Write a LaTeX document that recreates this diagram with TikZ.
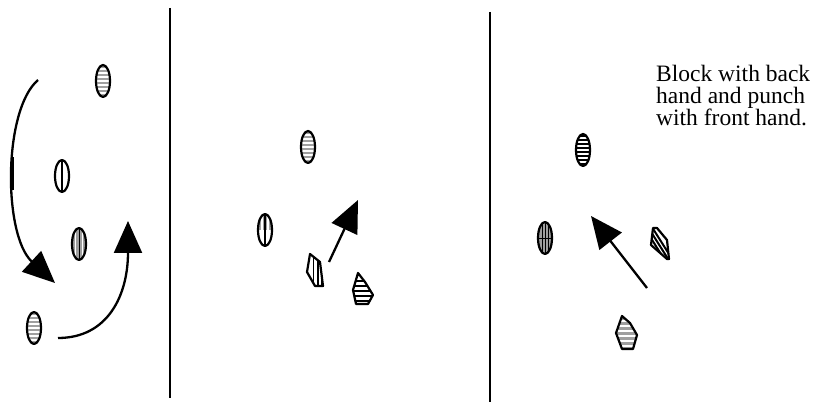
\documentclass[tikz,border=0pt]{standalone}
\usepackage{fontspec}
\setmainfont{Liberation Serif}
\usetikzlibrary{arrows.meta, positioning}

% player, horizontal stripes: x, y, fill, stripe colour
\newcommand{\hplayer}[4]{%
  \begin{scope}
    \clip (#1,#2) ellipse (7 and 16);
    \fill[#3] (#1-8,#2-17) rectangle (#1+8,#2+17);
    \foreach \d in {-12,-8,...,12}
      \draw[#4, line width=1.8pt] (#1-8,#2+\d) -- (#1+8,#2+\d);
  \end{scope}
  \draw[outline] (#1,#2) ellipse (7 and 16);}

% player, vertical stripes: x, y, fill, stripe style, stripe offsets
\newcommand{\vplayer}[5]{%
  \begin{scope}
    \clip (#1,#2) ellipse (7 and 16);
    \fill[#3] (#1-8,#2-17) rectangle (#1+8,#2+17);
    \foreach \d in {#5}
      \draw[#4] (#1+\d,#2-17) -- (#1+\d,#2+17);
  \end{scope}
  \draw[outline] (#1,#2) ellipse (7 and 16);}

\begin{document}
\begin{tikzpicture}[x=1pt, y=-1pt]
    % Define styles
    \tikzstyle{outline} = [draw=black, line width=2.2pt, line join=round]
    \tikzstyle{divider} = [draw=black, line width=1.6pt]
    \tikzstyle{arrow} = [-{Triangle[length=32pt, width=28pt]}, line width=2.3pt]
    \useasboundingbox (0,0) rectangle (814,406);

    % Dividers
    \draw[divider] (170,8) -- (170,398);
    \draw[divider] (490,12) -- (490,402);

    % Panel 1
    \hplayer{103}{81}{gray!75}{white}
    \vplayer{62}{176}{white}{line width=1.8pt}{0}
    \vplayer{79}{244}{gray!75}{white, line width=1.6pt}{-3.5,3.5}
    \draw[line width=0.8pt] (79,229) -- (79,259);
    \hplayer{34}{328}{gray!75}{white}

    % Panel 2
    \hplayer{308}{147}{gray!75}{white}
    \begin{scope}
        \clip (265,230) ellipse (7 and 16);
        \fill[gray!75] (257,213) rectangle (273,230);
        \draw[white, line width=1.4pt] (262,213) -- (262,230);
        \draw[white, line width=1.4pt] (268,213) -- (268,230);
        \draw[line width=1.2pt] (265,213) -- (265,247);
    \end{scope}
    \draw[outline] (265,230) ellipse (7 and 16);
    \begin{scope}
        \clip (310,254) -- (320,262) -- (323,286) -- (315,286) -- (307,272) -- cycle;
        \foreach \x in {313.5,318,322}
            \draw[line width=1.6pt] (\x,250) -- (\x,290);
    \end{scope}
    \draw[outline] (310,254) -- (320,262) -- (323,286) -- (315,286) -- (307,272) -- cycle;
    \begin{scope}
        \clip (358,273) -- (365,282) -- (373,295) -- (368,304) -- (356,304) -- (353,290) -- cycle;
        \foreach \y in {281,286,291,296,301}
            \draw[line width=2.2pt] (350,\y) -- (376,\y);
    \end{scope}
    \draw[outline] (358,273) -- (365,282) -- (373,295) -- (368,304) -- (356,304) -- (353,290) -- cycle;

    % Panel 3
    \hplayer{583}{150}{black}{white}
    \vplayer{545}{238}{gray!75}{line width=0.6pt}{-3,0,3}
    \begin{scope}
        \clip (545,238) ellipse (7 and 16);
        \draw[line width=0.6pt] (537,238) -- (553,238);
    \end{scope}
    \begin{scope}
        \clip (653,228) -- (657,228) -- (667,240) -- (669,259) -- (667,259) -- (651,245) -- cycle;
        \foreach \o in {-4,0,4}
            \draw[line width=2pt] (646+\o,224) -- (670+\o,262);
    \end{scope}
    \draw[outline] (653,228) -- (657,228) -- (667,240) -- (669,259) -- (667,259) -- (651,245) -- cycle;
    \begin{scope}
        \clip (622,316) -- (630,323) -- (637,335) -- (633,349) -- (622,349) -- (616,333) -- cycle;
        \fill[gray!75] (614,314) rectangle (640,351);
        \foreach \y in {321,326,...,346}
            \draw[white, line width=1.8pt] (614,\y) -- (640,\y);
    \end{scope}
    \draw[outline] (622,316) -- (630,323) -- (637,335) -- (633,349) -- (622,349) -- (616,333) -- cycle;

    % Note
    \node[anchor=north west, align=left, inner sep=0pt,
          font=\fontsize{23.5}{22}\selectfont] (note) at (656,65)
          {Block with back\\hand and punch\\with front hand.};

    % Arrow ends
    \coordinate (s1) at (38,80);
    \coordinate (t1) at (55,283);
    \coordinate (s2) at (58,338);
    \coordinate (t2) at (128,221);
    \coordinate (s3) at (329,262);
    \coordinate (t3) at (358,200);
    \coordinate (s4) at (647,288);
    \coordinate (t4) at (591,216);

    % Connections
    \draw[arrow] (s1) .. controls (3,110) and (3,235) .. (t1);
    \draw[line width=2.6pt] (12.5,157) -- (12.5,190);
    \draw[arrow] (s2) .. controls (108,338) and (128,295) .. (t2);
    \draw[arrow] (s3) -- (t3);
    \draw[arrow] (s4) -- (t4);
\end{tikzpicture}
\end{document}
